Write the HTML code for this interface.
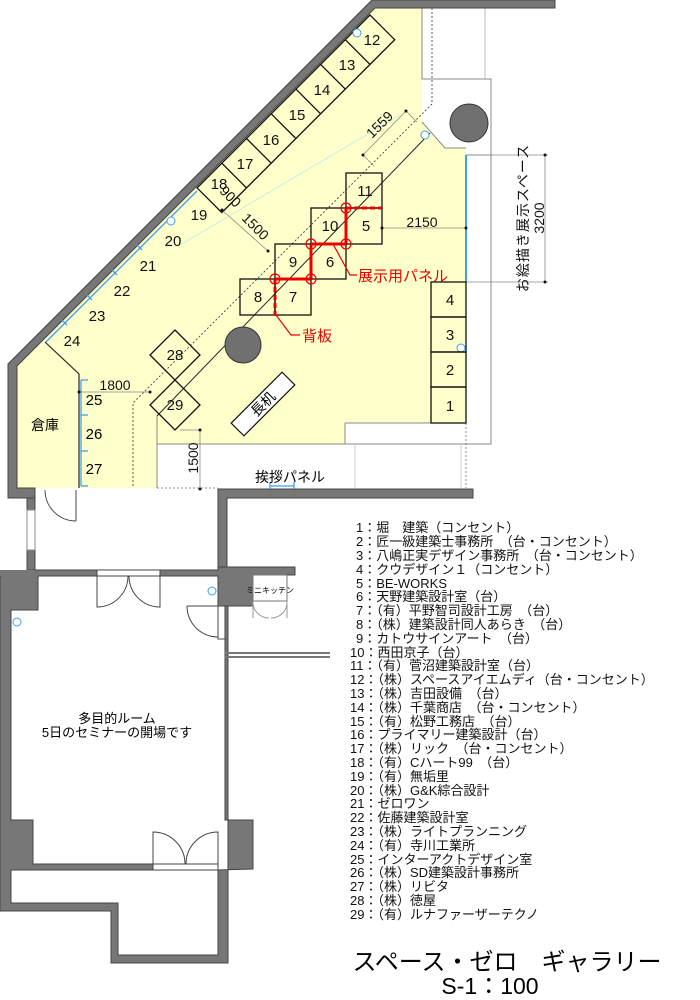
<!DOCTYPE html>
<html><head><meta charset="utf-8"><style>
html,body{margin:0;padding:0;background:#fff;}
svg{display:block;}
text{font-family:"Liberation Sans","Noto Sans CJK JP",sans-serif;}
</style></head><body>
<svg width="700" height="1000" viewBox="0 0 700 1000" xmlns="http://www.w3.org/2000/svg">
<!-- yellow floor -->
<polygon points="375,8 422,8 422,122 445,148 466,148 466,423 345,423 345,444 157,444 157,488 17,488 17,366" fill="#ffffcc"/>
<!-- right white area lines -->
<g stroke="#888" stroke-width="1" fill="none">
<polyline points="422,8 422,79 491,79 491,444 157,444"/>
<polyline points="422,122 445,148 466,148"/>
<line x1="466" y1="155" x2="491" y2="155"/>
<line x1="345" y1="423" x2="466" y2="423"/>
<line x1="345" y1="423" x2="345" y2="444"/>
<line x1="157" y1="416" x2="157" y2="488"/>
<line x1="485" y1="0" x2="485" y2="79" stroke="#bbb"/>
<line x1="355" y1="444" x2="355" y2="488" stroke="#ccc"/>
<line x1="461" y1="444" x2="461" y2="488" stroke="#ccc"/>
</g>
<line x1="466" y1="423" x2="466" y2="488" stroke="#888" stroke-dasharray="2,2"/>
<circle cx="469" cy="123" r="19" fill="#707070" stroke="#333"/>
<!-- walls gallery -->
<g fill="#777" stroke="#444" stroke-width="1">
<polygon points="372,0 555,0 555,8 375,8 17,366 17,488 35,488 35,498 8,498 8,364"/>
<polygon points="218,489 473,489 473,498 227,498 227,567 218,567"/>
<polygon points="27,498 35,498 35,510 27,510"/>
<polygon points="27,550 35,550 35,570 27,570"/>
</g>
<line x1="157" y1="488" x2="218" y2="488" stroke="#888" stroke-dasharray="2,2"/>
<!-- window -->
<g stroke="#888" fill="#fff"><rect x="27" y="510" width="8" height="40"/></g>
<!-- corridor door -->
<path d="M76,490 L76,521 M45,490 A31,31 0 0 0 76,521" stroke="#444" fill="none"/>
<!-- dotted diagonal -->
<polyline points="432,8 432,104 133,403 133,488" fill="none" stroke="#555" stroke-dasharray="2,2"/>
<!-- solid diagonal -->
<line x1="157" y1="416" x2="430" y2="133" stroke="#222"/>
<line x1="180" y1="245" x2="400" y2="115" stroke="#bfe8e8" stroke-width="0.8"/>
<!-- booths 12-18 -->
<g stroke="#111" fill="none" stroke-width="1.3">
<polygon points="370,15 197.1,187.9 221.8,212.6 394.7,39.7"/>
<line x1="345.3" y1="39.7" x2="370" y2="64.4"/>
<line x1="320.6" y1="64.4" x2="345.3" y2="89.1"/>
<line x1="295.9" y1="89.1" x2="320.6" y2="113.8"/>
<line x1="271.2" y1="113.8" x2="295.9" y2="138.5"/>
<line x1="246.5" y1="138.5" x2="271.2" y2="163.2"/>
<line x1="221.8" y1="163.2" x2="246.5" y2="187.9"/>
</g>
<g font-size="15" text-anchor="middle" fill="#111">
<text x="372" y="45">12</text><text x="347" y="70">13</text><text x="322" y="95">14</text>
<text x="297" y="120">15</text><text x="271" y="145">16</text><text x="245" y="169">17</text>
<text x="219" y="189">18</text>
<text x="199" y="220">19</text><text x="173" y="246">20</text><text x="148" y="271">21</text>
<text x="122" y="296">22</text><text x="97" y="321">23</text><text x="72" y="346">24</text>
</g>
<!-- blue lines -->
<g stroke="#3aa0ee" stroke-width="1.3" fill="none">
<line x1="197" y1="191" x2="46" y2="342"/>
<line x1="137" y1="245" x2="142" y2="250"/><line x1="112" y1="270" x2="117" y2="275"/>
<line x1="87" y1="295" x2="92" y2="300"/><line x1="62" y1="320" x2="67" y2="325"/>
<line x1="81" y1="380" x2="81" y2="486"/>
<line x1="81" y1="380" x2="88" y2="380"/><line x1="81" y1="415" x2="88" y2="415"/>
<line x1="81" y1="451" x2="88" y2="451"/><line x1="81" y1="486" x2="88" y2="486"/>
<line x1="466" y1="155" x2="466" y2="282" stroke-width="2"/>
<line x1="270" y1="486" x2="294" y2="486"/>
<line x1="270" y1="482" x2="270" y2="489"/><line x1="294" y1="482" x2="294" y2="489"/>
</g>
<g fill="#fff" stroke="#3aa0ee" stroke-width="1">
<circle cx="357" cy="33" r="4"/><circle cx="425" cy="135" r="4"/><circle cx="171" cy="221" r="4"/>
<circle cx="461" cy="348" r="4"/><circle cx="212" cy="591" r="4"/><circle cx="17" cy="622" r="4"/>
</g>
<!-- storage -->
<polyline points="45,342 79,374 79,488" fill="none" stroke="#222" stroke-width="1.2"/>
<text x="45" y="430" font-size="14" text-anchor="middle">倉庫</text>
<g font-size="15" text-anchor="middle"><text x="94" y="405">25</text><text x="94" y="439">26</text><text x="94" y="474">27</text></g>
<!-- dims -->
<g stroke="#888" stroke-width="0.8" fill="none">
<line x1="79" y1="392" x2="150" y2="392"/>
<line x1="200" y1="430" x2="200" y2="489"/><line x1="180" y1="430" x2="200" y2="430"/>
<line x1="382" y1="228" x2="466" y2="228"/>
<line x1="466" y1="155" x2="548" y2="155"/><line x1="466" y1="282" x2="548" y2="282"/>
<line x1="545" y1="155" x2="545" y2="282"/>
<line x1="222" y1="210" x2="268" y2="251"/>
<line x1="363" y1="155" x2="406" y2="111"/>
<line x1="363" y1="155" x2="374" y2="166"/><line x1="406" y1="111" x2="417" y2="122"/>
</g>
<g fill="#111"><circle cx="79" cy="392" r="1.5"/><circle cx="150" cy="392" r="1.5"/><circle cx="200" cy="430" r="1.5"/><circle cx="200" cy="489" r="1.5"/>
<circle cx="382" cy="228" r="1.5"/><circle cx="466" cy="228" r="1.5"/><circle cx="545" cy="155" r="1.5"/><circle cx="545" cy="282" r="1.5"/>
<circle cx="222" cy="210" r="1.5"/><circle cx="268" cy="251" r="1.5"/><circle cx="363" cy="155" r="1.5"/><circle cx="406" cy="111" r="1.5"/></g>
<g font-size="14" fill="#111">
<text x="115" y="390" text-anchor="middle">1800</text>
<text x="422" y="227" text-anchor="middle">2150</text>
<text transform="translate(198,458) rotate(-90)" text-anchor="middle">1500</text>
<text transform="translate(227,200) rotate(45)" text-anchor="middle">900</text>
<text transform="translate(252,230) rotate(45)" text-anchor="middle">1500</text>
<text transform="translate(383,128) rotate(-45)" text-anchor="middle">1559</text>
<text transform="translate(544,218) rotate(-90)" text-anchor="middle">3200</text>
</g>
<text transform="translate(523,218) rotate(-90)" text-anchor="middle" font-size="14" fill="#111" dominant-baseline="central" letter-spacing="1">お絵描き展示スペース</text>
<!-- booths 5-11 -->
<g stroke="#111" fill="none" stroke-width="1.3">
<rect x="346" y="173" width="36" height="35"/><rect x="346" y="208" width="36" height="36"/>
<rect x="311" y="208" width="35" height="36"/><rect x="311" y="244" width="35" height="35"/>
<rect x="275" y="244" width="36" height="35"/><rect x="275" y="279" width="36" height="36"/>
<rect x="240" y="279" width="35" height="36"/>
<rect x="431" y="282" width="35" height="35"/><rect x="431" y="317" width="35" height="35"/>
<rect x="431" y="352" width="35" height="35"/><rect x="431" y="387" width="35" height="36"/>
<polygon points="175,330 200,355 175,380 150,355"/>
<polygon points="175,380 200,405 175,430 150,405"/>
</g>
<g font-size="15" text-anchor="middle" fill="#111">
<text x="365" y="196">11</text><text x="366" y="231">5</text><text x="330" y="231">10</text>
<text x="330" y="267">6</text><text x="293" y="267">9</text><text x="293" y="302">7</text><text x="258" y="302">8</text>
<text x="450" y="305">4</text><text x="450" y="340">3</text><text x="450" y="375">2</text><text x="450" y="411">1</text>
<text x="175" y="360">28</text><text x="175" y="410">29</text>
</g>
<!-- red panels -->
<g stroke="#e00" stroke-width="3" fill="none">
<line x1="346" y1="208" x2="346" y2="244"/><line x1="311" y1="244" x2="346" y2="244"/>
<line x1="311" y1="244" x2="311" y2="279"/><line x1="275" y1="279" x2="311" y2="279"/>
<line x1="346" y1="208" x2="382" y2="208" stroke-dasharray="5,3"/>
<line x1="275" y1="279" x2="275" y2="315" stroke-dasharray="5,3"/>
</g>
<g stroke="#e00" stroke-width="1.2" fill="none">
<circle cx="346" cy="208" r="5"/><circle cx="346" cy="244" r="5"/><circle cx="311" cy="244" r="5"/>
<circle cx="311" cy="279" r="5"/><circle cx="275" cy="279" r="5"/>
<polyline points="333,244 350,275 357,275"/>
<polyline points="276,315 291,335 300,335"/>
</g>
<text x="358" y="281" font-size="15" fill="#e00">展示用パネル</text>
<text x="302" y="341" font-size="15" fill="#e00">背板</text>
<!-- column + desk -->
<circle cx="243" cy="345" r="18" fill="#707070" stroke="#333"/>
<g transform="translate(263,404) rotate(-45)">
<rect x="-36" y="-9" width="72" height="18" fill="#fff" stroke="#111" stroke-width="1.2"/>
<text x="0" y="5" font-size="14" text-anchor="middle">長机</text></g>
<text x="290" y="482" font-size="14" text-anchor="middle">挨拶パネル</text>
<!-- lower walls -->
<g fill="#777" stroke="#444" stroke-width="1">
<polygon points="35,570 218,570 218,567 295,567 295,575 253,575 253,606 225,606 218,606 218,576 38,576 38,610 11,610 11,820 33,820 33,864 153,864 153,870 11,870 11,903 118,903 118,955 218,955 218,870 253,869 253,820 225,820 225,639 218,639 218,606 228,606 228,963 111,963 111,911 0,911 0,576"/>
</g>
<rect x="0" y="570" width="35" height="6" fill="#777"/>
<g stroke="#777" fill="none" stroke-width="2"><line x1="225" y1="653" x2="330" y2="653"/><line x1="225" y1="657" x2="330" y2="657"/></g>
<!-- room doors -->
<g stroke="#444" fill="none" stroke-width="1">
<rect x="97" y="570" width="63" height="6" fill="#fff"/>
<path d="M97,576 L97,607 A31,31 0 0 0 128,576 M160,576 L160,607 A31,31 0 0 1 129,576"/>
<rect x="218" y="606" width="7" height="33" fill="#fff"/>
<path d="M187,606 L218,606 M187,606 A31,31 0 0 0 218,637"/>
<rect x="153" y="864" width="65" height="6" fill="#fff"/>
<path d="M153,864 L153,832 A32,32 0 0 1 185,864 M218,864 L218,832 A32,32 0 0 0 186,864"/>
<rect x="253" y="575" width="34" height="26" fill="#fff" stroke="#777"/>
<path d="M253,601 L253,618 M287,601 L287,618 M253,604 A16,16 0 0 0 269,618 M287,604 A16,16 0 0 1 271,618" stroke="#999"/>
</g>
<text x="270" y="593" font-size="8" text-anchor="middle">ミニキッチン</text>
<text x="117" y="723" font-size="13" text-anchor="middle">多目的ルーム</text>
<text x="117" y="737" font-size="13" text-anchor="middle">5日のセミナーの開場です</text>
<!-- legend -->
<g font-size="13" fill="#111">
<text x="356" y="532">1：堀　建築（コンセント）</text>
<text x="356" y="546">2：匠一級建築士事務所　（台・コンセント）</text>
<text x="356" y="560">3：八嶋正実デザイン事務所　（台・コンセント）</text>
<text x="356" y="574">4：クウデザイン１（コンセント）</text>
<text x="356" y="588">5：BE-WORKS</text>
<text x="356" y="601">6：天野建築設計室（台）</text>
<text x="356" y="615">7：（有）平野智司設計工房　（台）</text>
<text x="356" y="629">8：（株）建築設計同人あらき　（台）</text>
<text x="356" y="643">9：カトウサインアート　（台）</text>
<text x="350" y="657">10：西田京子（台）</text>
<text x="350" y="670">11：（有）菅沼建築設計室（台）</text>
<text x="350" y="684">12：（株）スペースアイエムディ（台・コンセント）</text>
<text x="350" y="698">13：（株）吉田設備　（台）</text>
<text x="350" y="712">14：（株）千葉商店　（台・コンセント）</text>
<text x="350" y="726">15：（有）松野工務店　（台）</text>
<text x="350" y="739">16：プライマリー建築設計（台）</text>
<text x="350" y="753">17：（株）リック　（台・コンセント）</text>
<text x="350" y="767">18：（有）Cハート99　（台）</text>
<text x="350" y="781">19：（有）無垢里</text>
<text x="350" y="795">20：（株）G&amp;K綜合設計</text>
<text x="350" y="808">21：ゼロワン</text>
<text x="350" y="822">22：佐藤建築設計室</text>
<text x="350" y="836">23：（株）ライトプランニング</text>
<text x="350" y="850">24：（有）寺川工業所</text>
<text x="350" y="864">25：インターアクトデザイン室</text>
<text x="350" y="877">26：（株）SD建築設計事務所</text>
<text x="350" y="891">27：（株）リビタ</text>
<text x="350" y="905">28：（株）徳屋</text>
<text x="350" y="919">29：（有）ルナファーザーテクノ</text>
</g>
<text x="507" y="970" font-size="24" text-anchor="middle">スペース・ゼロ　ギャラリー</text>
<text x="490" y="994" font-size="23" text-anchor="middle">S-1：100</text>
</svg>
</body></html>
